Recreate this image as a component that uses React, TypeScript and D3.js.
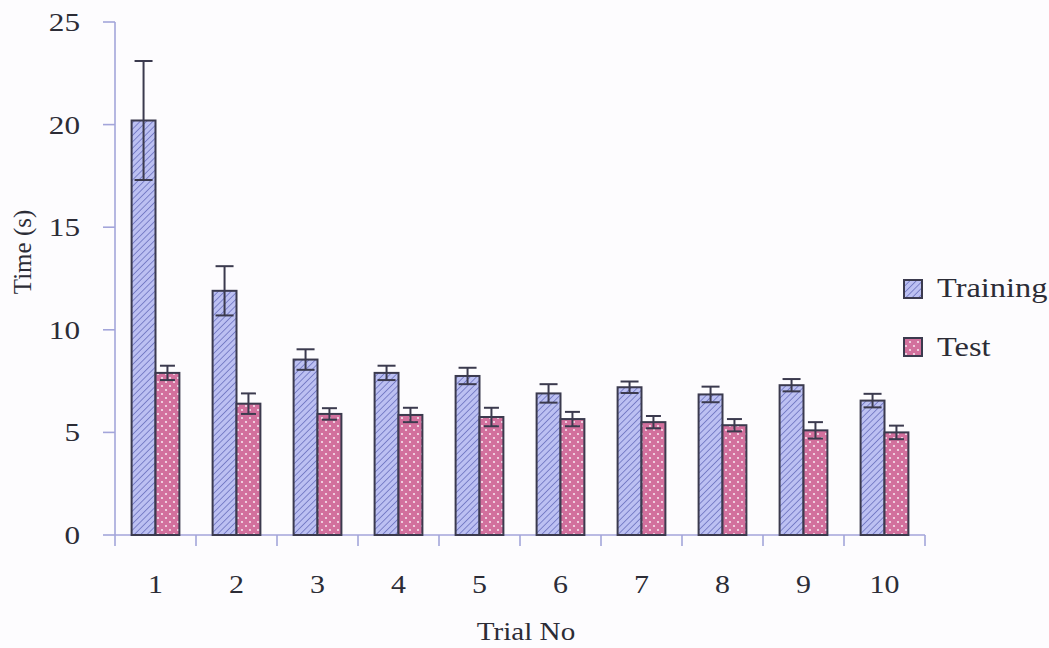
import React from "react";
import * as d3 from "d3";

const trials = ["1", "2", "3", "4", "5", "6", "7", "8", "9", "10"];
const trainingValues = [20.2, 11.9, 8.55, 7.9, 7.75, 6.9, 7.2, 6.85, 7.3, 6.55];
const trainingErrors = [2.9, 1.2, 0.5, 0.35, 0.4, 0.45, 0.28, 0.38, 0.3, 0.33];
const testValues = [7.9, 6.4, 5.9, 5.85, 5.75, 5.65, 5.5, 5.35, 5.1, 5.0];
const testErrors = [0.35, 0.5, 0.28, 0.35, 0.45, 0.35, 0.3, 0.3, 0.4, 0.33];
const yTicks = [0, 5, 10, 15, 20, 25];
const seriesNames = ["Training", "Test"];

const W = 1049;
const H = 648;
const FONT = "Liberation Serif";
const AXIS = "#a3a5da";
const INK = "#3b3a4e";
const TEXT = "#2c2c36";

const txt = { fontFamily: FONT } as React.CSSProperties;

export default function App() {
  const x0 = d3
    .scaleBand<string>()
    .domain(trials)
    .range([115, 925])
    .paddingInner(0.41)
    .paddingOuter(0.205);
  const x1 = d3
    .scaleBand<string>()
    .domain(seriesNames)
    .range([0, x0.bandwidth()]);
  const y = d3.scaleLinear().domain([0, 25]).range([535, 22]);

  const series = [
    { name: "Training", values: trainingValues, errors: trainingErrors, fill: "url(#hatch)", cap: 9 },
    { name: "Test", values: testValues, errors: testErrors, fill: "url(#dots)", cap: 7.5 },
  ];

  const step = x0.step();
  const xTickPositions = d3.range(trials.length + 1).map((i) => 115 + i * step);

  return (
    <svg
      width={W}
      height={H}
      style={{ position: "absolute", left: 0, top: 0, background: "#fdfcfe" }}
    >
      <defs>
        <pattern id="hatch" patternUnits="userSpaceOnUse" width="4.5" height="4.5" patternTransform="rotate(45)">
          <rect width="4.5" height="4.5" fill="#bcc0f2" />
          <line x1="0" y1="0" x2="0" y2="4.5" stroke="#6167b8" strokeWidth="1.4" />
        </pattern>
        <pattern id="dots" patternUnits="userSpaceOnUse" width="8" height="8">
          <rect width="8" height="8" fill="#d2709d" />
          <circle cx="2" cy="2" r="1.1" fill="#f6e4ee" />
          <circle cx="6" cy="6" r="1.1" fill="#f6e4ee" />
        </pattern>
      </defs>

      {/* axes */}
      <line x1={115} y1={y(25)} x2={115} y2={y(0)} stroke={AXIS} strokeWidth={1.6} />
      <line x1={115} y1={y(0)} x2={925} y2={y(0)} stroke={AXIS} strokeWidth={1.6} />
      {yTicks.map((t) => (
        <g key={"yt" + t}>
          <line x1={103} x2={115} y1={y(t)} y2={y(t)} stroke={AXIS} strokeWidth={1.6} />
          <text
            transform={`translate(80,${y(t) + 9}) scale(1.2,1)`}
            textAnchor="end"
            style={txt}
            fontSize={26}
            fill={TEXT}
          >
            {t}
          </text>
        </g>
      ))}
      {xTickPositions.map((p, i) => (
        <line key={"xt" + i} x1={p} x2={p} y1={y(0)} y2={y(0) + 11} stroke={AXIS} strokeWidth={1.6} />
      ))}
      {trials.map((t) => (
        <text
          key={"xl" + t}
          transform={`translate(${(x0(t) as number) + x0.bandwidth() / 2},593) scale(1.15,1)`}
          textAnchor="middle"
          style={txt}
          fontSize={26}
          fill={TEXT}
        >
          {t}
        </text>
      ))}

      {/* bars */}
      {series.map((s) =>
        trials.map((t, i) => {
          const bx = (x0(t) as number) + (x1(s.name) as number);
          const bw = x1.bandwidth();
          const v = s.values[i];
          return (
            <rect
              key={s.name + t}
              x={bx}
              y={y(v)}
              width={bw}
              height={y(0) - y(v)}
              fill={s.fill}
              stroke={INK}
              strokeWidth={2}
            />
          );
        })
      )}

      {/* error bars */}
      {series.map((s) =>
        trials.map((t, i) => {
          const cx = (x0(t) as number) + (x1(s.name) as number) + x1.bandwidth() / 2;
          const v = s.values[i];
          const e = s.errors[i];
          return (
            <g key={"e" + s.name + t} stroke={INK} strokeWidth={2}>
              <line x1={cx} x2={cx} y1={y(v + e)} y2={y(v - e)} />
              <line x1={cx - s.cap} x2={cx + s.cap} y1={y(v + e)} y2={y(v + e)} />
              <line x1={cx - s.cap} x2={cx + s.cap} y1={y(v - e)} y2={y(v - e)} />
            </g>
          );
        })
      )}

      {/* axis titles */}
      <text
        transform={`translate(31,252) rotate(-90)`}
        textAnchor="middle"
        style={txt}
        fontSize={25}
        fill={TEXT}
      >
        Time (s)
      </text>
      <text
        transform={`translate(526,640) scale(1.12,1)`}
        textAnchor="middle"
        style={txt}
        fontSize={26}
        fill={TEXT}
      >
        Trial No
      </text>

      {/* legend */}
      <rect x={904} y={280} width={18} height={18} fill="url(#hatch)" stroke={INK} strokeWidth={2} />
      <text transform="translate(937,297) scale(1.2,1)" style={txt} fontSize={27} fill={TEXT}>
        Training
      </text>
      <rect x={904} y={338} width={18} height={18} fill="url(#dots)" stroke={INK} strokeWidth={2} />
      <text transform="translate(937,356) scale(1.2,1)" style={txt} fontSize={27} fill={TEXT}>
        Test
      </text>
    </svg>
  );
}
